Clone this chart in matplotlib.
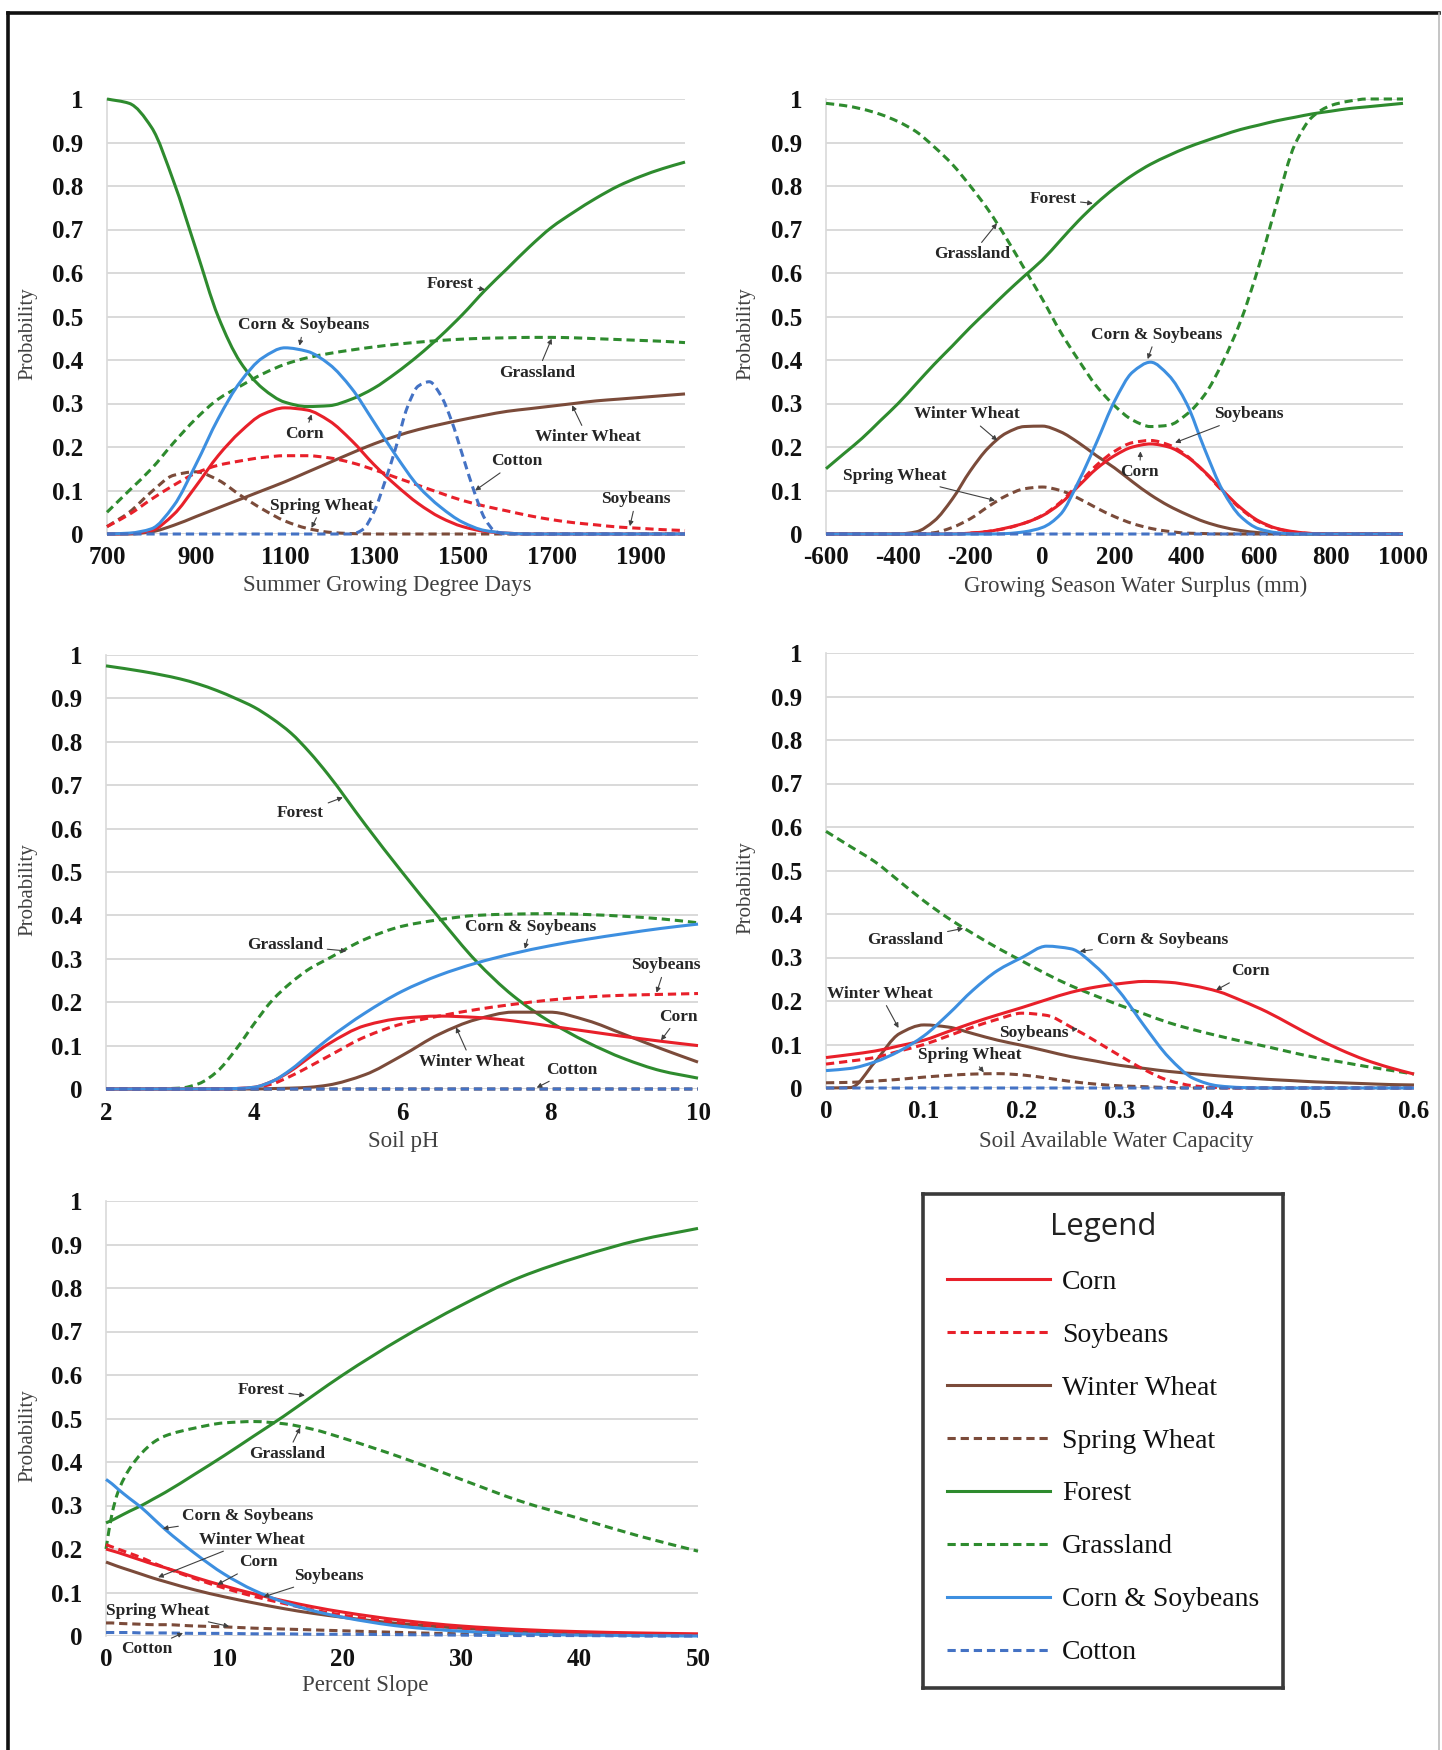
import matplotlib
matplotlib.use("Agg")
import numpy as np
import matplotlib.pyplot as plt
from matplotlib.lines import Line2D
from matplotlib.path import Path
from matplotlib.patches import PathPatch
from matplotlib.font_manager import FontProperties

W, H = 1442, 1750

# ------------------------------------------------------------------ data
# Panel 1: Summer Growing Degree Days
gdd_x = [700, 750, 800, 850, 900, 950, 1000, 1050, 1100, 1150, 1200, 1250, 1300, 1350,
         1400, 1450, 1500, 1550, 1600, 1650, 1700, 1750, 1800, 1850, 1900, 1950, 2000]
gdd_forest = [1.0, 0.99, 0.935, 0.81, 0.655, 0.50, 0.395, 0.335, 0.303, 0.293, 0.295, 0.31, 0.335, 0.37,
              0.41, 0.455, 0.505, 0.56, 0.61, 0.66, 0.705, 0.74, 0.772, 0.80, 0.822, 0.84, 0.855]
gdd_grass = [0.05, 0.10, 0.15, 0.21, 0.265, 0.31, 0.34, 0.368, 0.39, 0.405, 0.415, 0.423, 0.43, 0.436,
             0.441, 0.445, 0.448, 0.45, 0.451, 0.452, 0.452, 0.451, 0.449, 0.447, 0.445, 0.443, 0.44]
gdd_cornsoy = [0.0, 0.002, 0.012, 0.065, 0.16, 0.265, 0.35, 0.405, 0.428, 0.42, 0.39, 0.335, 0.258, 0.18,
               0.11, 0.062, 0.027, 0.008, 0.002, 0, 0, 0, 0, 0, 0, 0, 0]
gdd_corn = [0.0, 0.001, 0.008, 0.045, 0.11, 0.18, 0.235, 0.275, 0.29, 0.285, 0.26, 0.215, 0.16, 0.112,
            0.07, 0.038, 0.017, 0.006, 0.002, 0, 0, 0, 0, 0, 0, 0, 0]
gdd_soy = [0.017, 0.045, 0.08, 0.112, 0.14, 0.158, 0.168, 0.176, 0.18, 0.18, 0.175, 0.164, 0.148, 0.13,
           0.112, 0.094, 0.077, 0.064, 0.053, 0.042, 0.033, 0.026, 0.021, 0.016, 0.013, 0.01, 0.008]
gdd_wwheat = [0.0, 0.0, 0.005, 0.02, 0.04, 0.06, 0.08, 0.1, 0.12, 0.142, 0.164, 0.186, 0.207, 0.225,
              0.24, 0.252, 0.263, 0.273, 0.282, 0.288, 0.294, 0.3, 0.306, 0.31, 0.314, 0.318, 0.322]
gdd_swheat = [0.017, 0.05, 0.097, 0.135, 0.143, 0.124, 0.089, 0.057, 0.03, 0.013, 0.004, 0.001, 0, 0,
              0, 0, 0, 0, 0, 0, 0, 0, 0, 0, 0, 0, 0]
gdd_cotton_x = [700, 1250, 1275, 1300, 1325, 1350, 1375, 1400, 1425, 1450, 1475, 1500, 1525, 1550, 1575, 1600, 2000]
gdd_cotton = [0, 0, 0.01, 0.05, 0.12, 0.2, 0.29, 0.34, 0.35, 0.32, 0.26, 0.18, 0.1, 0.035, 0.005, 0, 0]

# Panel 2: Growing Season Water Surplus (mm)
ws_x = [-600, -550, -500, -450, -400, -350, -300, -250, -200, -150, -100, -50, 0, 50, 100, 150, 200,
        250, 300, 350, 400, 450, 500, 550, 600, 650, 700, 750, 800, 850, 900, 950, 1000]
ws_forest = [0.15, 0.185, 0.22, 0.26, 0.30, 0.345, 0.39, 0.432, 0.475, 0.515, 0.555, 0.593, 0.63, 0.675,
             0.72, 0.76, 0.795, 0.825, 0.85, 0.87, 0.888, 0.903, 0.917, 0.93, 0.94, 0.95, 0.958, 0.966,
             0.972, 0.978, 0.982, 0.986, 0.99]
ws_grass = [0.99, 0.985, 0.977, 0.965, 0.948, 0.925, 0.89, 0.85, 0.80, 0.745, 0.68, 0.61, 0.54, 0.465,
            0.40, 0.34, 0.295, 0.262, 0.247, 0.25, 0.275, 0.32, 0.395, 0.49, 0.615, 0.76, 0.895, 0.96,
            0.985, 0.995, 1.0, 1.0, 1.0]
ws_cornsoy = [0, 0, 0, 0, 0, 0, 0, 0, 0, 0, 0.001, 0.005, 0.015, 0.045, 0.12, 0.21, 0.305, 0.372,
              0.395, 0.365, 0.30, 0.195, 0.10, 0.04, 0.012, 0.003, 0, 0, 0, 0, 0, 0, 0]
ws_corn = [0, 0, 0, 0, 0, 0, 0, 0, 0.002, 0.006, 0.014, 0.025, 0.042, 0.07, 0.11, 0.15, 0.18, 0.2,
           0.207, 0.2, 0.178, 0.143, 0.1, 0.06, 0.03, 0.013, 0.005, 0.001, 0, 0, 0, 0, 0]
ws_soy = [0, 0, 0, 0, 0, 0, 0, 0, 0.002, 0.006, 0.013, 0.025, 0.043, 0.073, 0.115, 0.158, 0.19, 0.21,
          0.215, 0.205, 0.18, 0.142, 0.098, 0.058, 0.028, 0.012, 0.004, 0.001, 0, 0, 0, 0, 0]
ws_wwheat = [0, 0, 0, 0, 0, 0.005, 0.03, 0.08, 0.145, 0.198, 0.232, 0.247, 0.248, 0.235, 0.21, 0.18,
             0.152, 0.12, 0.09, 0.065, 0.045, 0.028, 0.016, 0.008, 0.003, 0.001, 0, 0, 0, 0, 0, 0, 0]
ws_swheat = [0, 0, 0, 0, 0, 0, 0.003, 0.015, 0.035, 0.063, 0.088, 0.104, 0.108, 0.1, 0.082, 0.06,
             0.04, 0.024, 0.013, 0.006, 0.002, 0.001, 0, 0, 0, 0, 0, 0, 0, 0, 0, 0, 0]
ws_cotton = [0] * 33

# Panel 3: Soil pH
ph_x = [2, 2.5, 3, 3.25, 3.5, 3.75, 4, 4.25, 4.5, 4.75, 5, 5.5, 6, 6.5, 7, 7.5, 8, 8.5, 9, 9.5, 10]
ph_forest = [0.975, 0.962, 0.945, 0.933, 0.918, 0.90, 0.88, 0.853, 0.82, 0.776, 0.725, 0.61, 0.50,
             0.395, 0.295, 0.215, 0.155, 0.108, 0.07, 0.042, 0.025]
ph_grass = [0, 0, 0.002, 0.012, 0.04, 0.09, 0.15, 0.205, 0.245, 0.277, 0.30, 0.345, 0.375, 0.39, 0.40,
            0.403, 0.404, 0.402, 0.398, 0.392, 0.383]
ph_cornsoy = [0, 0, 0, 0, 0, 0.001, 0.004, 0.018, 0.045, 0.08, 0.115, 0.175, 0.225, 0.262, 0.29, 0.312,
              0.33, 0.345, 0.358, 0.37, 0.38]
ph_corn = [0, 0, 0, 0, 0, 0.001, 0.004, 0.018, 0.042, 0.073, 0.103, 0.146, 0.163, 0.168, 0.165, 0.157,
           0.145, 0.133, 0.121, 0.11, 0.10]
ph_soy = [0, 0, 0, 0, 0, 0.001, 0.003, 0.012, 0.03, 0.052, 0.075, 0.12, 0.15, 0.168, 0.183, 0.195,
          0.205, 0.212, 0.216, 0.218, 0.22]
ph_wwheat = [0, 0, 0, 0, 0, 0, 0, 0.001, 0.002, 0.004, 0.009, 0.033, 0.077, 0.126, 0.16, 0.177, 0.177,
             0.158, 0.126, 0.093, 0.062]
ph_swheat = [0] * 21
ph_cotton = [0] * 21

# Panel 4: Soil Available Water Capacity
awc_x = [0, 0.025, 0.05, 0.075, 0.1, 0.125, 0.15, 0.175, 0.2, 0.225, 0.25, 0.275, 0.3, 0.325, 0.35,
         0.375, 0.4, 0.425, 0.45, 0.475, 0.5, 0.525, 0.55, 0.575, 0.6]
awc_grass = [0.59, 0.555, 0.52, 0.475, 0.43, 0.39, 0.355, 0.322, 0.292, 0.262, 0.235, 0.212, 0.19, 0.17,
             0.15, 0.134, 0.12, 0.107, 0.095, 0.082, 0.07, 0.06, 0.05, 0.041, 0.032]
awc_cornsoy = [0.04, 0.045, 0.06, 0.085, 0.12, 0.17, 0.225, 0.27, 0.30, 0.326, 0.32, 0.28, 0.22, 0.142,
               0.07, 0.022, 0.005, 0.001, 0, 0, 0, 0, 0, 0, 0]
awc_corn = [0.07, 0.077, 0.085, 0.097, 0.11, 0.13, 0.15, 0.168, 0.185, 0.203, 0.22, 0.232, 0.24, 0.245,
            0.243, 0.235, 0.222, 0.2, 0.175, 0.145, 0.115, 0.088, 0.065, 0.047, 0.032]
awc_soy = [0.055, 0.062, 0.07, 0.085, 0.10, 0.12, 0.14, 0.158, 0.172, 0.167, 0.14, 0.108, 0.074, 0.042,
           0.017, 0.005, 0.001, 0, 0, 0, 0, 0, 0, 0, 0]
awc_wwheat = [0, 0.001, 0.06, 0.125, 0.145, 0.14, 0.125, 0.11, 0.098, 0.085, 0.072, 0.062, 0.052, 0.045,
              0.038, 0.033, 0.028, 0.024, 0.02, 0.017, 0.014, 0.012, 0.01, 0.008, 0.007]
awc_swheat = [0.012, 0.013, 0.016, 0.02, 0.025, 0.029, 0.032, 0.033, 0.03, 0.023, 0.015, 0.009, 0.005,
              0.003, 0.001, 0, 0, 0, 0, 0, 0, 0, 0, 0, 0]
awc_cotton = [0] * 25

# Panel 5: Percent Slope
slope_x = [0, 0.5, 1, 2, 3, 4, 5, 7.5, 10, 12.5, 15, 17.5, 20, 25, 30, 35, 40, 45, 50]
slope_forest = [0.26, 0.266, 0.273, 0.287, 0.30, 0.315, 0.33, 0.372, 0.415, 0.46, 0.505, 0.553, 0.60,
                0.685, 0.76, 0.825, 0.872, 0.91, 0.937]
slope_grass = [0.2, 0.28, 0.33, 0.385, 0.42, 0.445, 0.46, 0.478, 0.49, 0.493, 0.488, 0.475, 0.455, 0.41,
               0.36, 0.31, 0.27, 0.23, 0.195]
slope_cornsoy = [0.36, 0.35, 0.338, 0.316, 0.295, 0.27, 0.245, 0.19, 0.142, 0.105, 0.078, 0.058, 0.043,
                 0.022, 0.011, 0.005, 0.002, 0.001, 0.0]
slope_corn = [0.20, 0.196, 0.192, 0.183, 0.174, 0.165, 0.157, 0.135, 0.115, 0.097, 0.081, 0.067, 0.055,
              0.036, 0.023, 0.015, 0.01, 0.007, 0.005]
slope_soy = [0.21, 0.205, 0.2, 0.19, 0.18, 0.168, 0.157, 0.132, 0.11, 0.091, 0.075, 0.06, 0.048, 0.03,
             0.018, 0.01, 0.006, 0.003, 0.002]
slope_wwheat = [0.17, 0.165, 0.16, 0.151, 0.142, 0.133, 0.125, 0.106, 0.09, 0.076, 0.063, 0.052, 0.043,
                0.028, 0.018, 0.011, 0.007, 0.004, 0.003]
slope_swheat = [0.03, 0.03, 0.029, 0.028, 0.027, 0.026, 0.026, 0.023, 0.021, 0.018, 0.016, 0.014, 0.012,
                0.008, 0.005, 0.003, 0.002, 0.001, 0.001]
slope_cotton = [0.008, 0.008, 0.008, 0.008, 0.007, 0.007, 0.007, 0.006, 0.006, 0.005, 0.005, 0.004,
                0.004, 0.003, 0.002, 0.001, 0.001, 0, 0]

yticks = [0, 0.1, 0.2, 0.3, 0.4, 0.5, 0.6, 0.7, 0.8, 0.9, 1]
ytick_labels = ["0", "0.1", "0.2", "0.3", "0.4", "0.5", "0.6", "0.7", "0.8", "0.9", "1"]

# ------------------------------------------------------------------ style
SERIES = ["Corn", "Soybeans", "Winter Wheat", "Spring Wheat", "Forest", "Grassland",
          "Corn & Soybeans", "Cotton"]
COLOR = {"Corn": "#e8202a", "Soybeans": "#e8202a", "Winter Wheat": "#7b4b3a",
         "Spring Wheat": "#7b4b3a", "Forest": "#2e8b2e", "Grassland": "#2e8b2e",
         "Corn & Soybeans": "#3d8fe0", "Cotton": "#4472c4"}
DASHED = {"Soybeans", "Spring Wheat", "Grassland", "Cotton"}
DRAW_ORDER = ["Grassland", "Forest", "Winter Wheat", "Spring Wheat", "Soybeans", "Corn",
              "Corn & Soybeans", "Cotton"]
LW = 2.2
DASH = (2.7, 1.6)
SERIF = "Liberation Serif"

panels = [
    dict(px=(107, 99, 685, 534), xlim=(700, 2000), xticks=[700, 900, 1100, 1300, 1500, 1700, 1900],
         xlabel="Summer Growing Degree Days", xlab=(387, 586),
         series={"Forest": (gdd_x, gdd_forest), "Grassland": (gdd_x, gdd_grass),
                 "Corn & Soybeans": (gdd_x, gdd_cornsoy), "Corn": (gdd_x, gdd_corn),
                 "Soybeans": (gdd_x, gdd_soy), "Winter Wheat": (gdd_x, gdd_wwheat),
                 "Spring Wheat": (gdd_x, gdd_swheat), "Cotton": (gdd_cotton_x, gdd_cotton)},
         notes=[("Forest", (1472, 0.575), (1550, 0.562)),
                ("Corn & Soybeans", (1143, 0.48), (1133, 0.433)),
                ("Grassland", (1668, 0.371), (1700, 0.449)),
                ("Corn", (1145, 0.229), (1160, 0.275)),
                ("Winter Wheat", (1781, 0.222), (1746, 0.296)),
                ("Cotton", (1621, 0.167), (1528, 0.1)),
                ("Spring Wheat", (1184, 0.065), (1160, 0.014)),
                ("Soybeans", (1890, 0.08), (1876, 0.018))]),
    dict(px=(826, 99, 1403, 534), xlim=(-600, 1000),
         xticks=[-600, -400, -200, 0, 200, 400, 600, 800, 1000],
         xlabel="Growing Season Water Surplus (mm)", xlab=(1136, 586),
         series={"Forest": (ws_x, ws_forest), "Grassland": (ws_x, ws_grass),
                 "Corn & Soybeans": (ws_x, ws_cornsoy), "Corn": (ws_x, ws_corn),
                 "Soybeans": (ws_x, ws_soy), "Winter Wheat": (ws_x, ws_wwheat),
                 "Spring Wheat": (ws_x, ws_swheat), "Cotton": (ws_x, ws_cotton)},
         notes=[("Forest", (29, 0.77), (140, 0.76)),
                ("Grassland", (-195, 0.643), (-126, 0.714)),
                ("Corn & Soybeans", (316, 0.458), (292, 0.402)),
                ("Soybeans", (572, 0.275), (368, 0.21)),
                ("Corn", (270, 0.142), (272, 0.19)),
                ("Winter Wheat", (-210, 0.275), (-125, 0.215)),
                ("Spring Wheat", (-408, 0.134), (-131, 0.077))]),
    dict(px=(106, 655, 698, 1089), xlim=(2, 10), xticks=[2, 4, 6, 8, 10],
         xlabel="Soil pH", xlab=(403, 1141),
         series={"Forest": (ph_x, ph_forest), "Grassland": (ph_x, ph_grass),
                 "Corn & Soybeans": (ph_x, ph_cornsoy), "Corn": (ph_x, ph_corn),
                 "Soybeans": (ph_x, ph_soy), "Winter Wheat": (ph_x, ph_wwheat),
                 "Spring Wheat": (ph_x, ph_swheat), "Cotton": (ph_x, ph_cotton)},
         notes=[("Forest", (4.63, 0.635), (5.2, 0.672)),
                ("Grassland", (4.42, 0.331), (5.25, 0.318)),
                ("Corn & Soybeans", (7.74, 0.373), (7.66, 0.323)),
                ("Soybeans", (9.56, 0.285), (9.44, 0.222)),
                ("Corn", (9.74, 0.167), (9.5, 0.112)),
                ("Winter Wheat", (6.94, 0.062), (6.73, 0.142)),
                ("Cotton", (8.29, 0.044), (7.82, 0.003))]),
    dict(px=(826, 653, 1414, 1088), xlim=(0, 0.6), xticks=[0, 0.1, 0.2, 0.3, 0.4, 0.5, 0.6],
         xlabel="Soil Available Water Capacity", xlab=(1116, 1141),
         series={"Grassland": (awc_x, awc_grass),
                 "Corn & Soybeans": (awc_x, awc_cornsoy), "Corn": (awc_x, awc_corn),
                 "Soybeans": (awc_x, awc_soy), "Winter Wheat": (awc_x, awc_wwheat),
                 "Spring Wheat": (awc_x, awc_swheat), "Cotton": (awc_x, awc_cotton)},
         notes=[("Grassland", (0.081, 0.34), (0.14, 0.367)),
                ("Corn & Soybeans", (0.343, 0.34), (0.259, 0.314)),
                ("Corn", (0.433, 0.268), (0.398, 0.225)),
                ("Winter Wheat", (0.055, 0.217), (0.074, 0.138)),
                ("Soybeans", (0.212, 0.126), (0.257, 0.136)),
                ("Spring Wheat", (0.147, 0.076), (0.161, 0.036))]),
    dict(px=(106, 1201, 698, 1636), xlim=(0, 50), xticks=[0, 10, 20, 30, 40, 50],
         xlabel="Percent Slope", xlab=(365, 1686),
         series={"Forest": (slope_x, slope_forest), "Grassland": (slope_x, slope_grass),
                 "Corn & Soybeans": (slope_x, slope_cornsoy), "Corn": (slope_x, slope_corn),
                 "Soybeans": (slope_x, slope_soy), "Winter Wheat": (slope_x, slope_wwheat),
                 "Spring Wheat": (slope_x, slope_swheat), "Cotton": (slope_x, slope_cotton)},
         notes=[("Forest", (13.1, 0.566), (16.8, 0.553)),
                ("Grassland", (15.3, 0.418), (16.4, 0.479)),
                ("Corn & Soybeans", (12.0, 0.276), (4.8, 0.247)),
                ("Winter Wheat", (12.3, 0.221), (4.4, 0.135)),
                ("Corn", (12.9, 0.169), (9.4, 0.118)),
                ("Soybeans", (18.8, 0.138), (13.3, 0.09)),
                ("Spring Wheat", (4.4, 0.058), (10.4, 0.022)),
                ("Cotton", (3.4, -0.031), (6.5, 0.007))]),
]


def smooth_path(xs, ys):
    """Excel-style smoothed line: cubic Bezier segments through every data point
    (monotone Hermite tangents, so no overshoot)."""
    x = np.asarray(xs, float)
    y = np.asarray(ys, float)
    h = np.diff(x)
    d = np.diff(y) / h
    n = len(x)
    m = np.zeros(n)
    m[0], m[-1] = d[0], d[-1]
    for i in range(1, n - 1):
        if d[i - 1] * d[i] <= 0:
            m[i] = 0.0
        else:
            w1 = 2 * h[i] + h[i - 1]
            w2 = h[i] + 2 * h[i - 1]
            m[i] = (w1 + w2) / (w1 / d[i - 1] + w2 / d[i])
    verts = [(x[0], y[0])]
    codes = [Path.MOVETO]
    for i in range(n - 1):
        verts += [(x[i] + h[i] / 3, y[i] + m[i] * h[i] / 3),
                  (x[i + 1] - h[i] / 3, y[i + 1] - m[i + 1] * h[i] / 3),
                  (x[i + 1], y[i + 1])]
        codes += [Path.CURVE4] * 3
    return Path(verts, codes)


# ------------------------------------------------------------------ figure
fig = plt.figure(figsize=(W / 100, H / 100), dpi=100)
fig.patch.set_facecolor("white")

for p in panels:
    x0, y0, x1, y1 = p["px"]
    ax = fig.add_axes([x0 / W, 1 - y1 / H, (x1 - x0) / W, (y1 - y0) / H])
    ax.set_xlim(*p["xlim"])
    ax.set_ylim(0, 1)
    for name in DRAW_ORDER:
        if name not in p["series"]:
            continue
        xs, ys = p["series"][name]
        patch = PathPatch(smooth_path(xs, ys), fill=False, edgecolor=COLOR[name], lw=LW,
                          linestyle=(0, DASH) if name in DASHED else "-",
                          capstyle="butt", joinstyle="round", clip_on=False, zorder=3,
                          label=name)
        ax.add_patch(patch)
    ax.set_xlim(*p["xlim"])
    ax.set_ylim(0, 1)
    ax.set_yticks(yticks)
    ax.set_yticklabels(ytick_labels)
    ax.set_xticks(p["xticks"])
    ax.set_xticklabels(["%g" % v for v in p["xticks"]])
    ax.tick_params(axis="both", length=0, labelsize=18, colors="#111111")
    ax.tick_params(axis="y", pad=17)
    ax.tick_params(axis="x", pad=9)
    for lab in ax.get_xticklabels() + ax.get_yticklabels():
        lab.set_fontfamily(SERIF)
        lab.set_fontweight("bold")
    ax.yaxis.grid(True, color="#d9d9d9", lw=1.4)
    ax.set_axisbelow(True)
    for s in ["top", "right", "bottom"]:
        ax.spines[s].set_visible(False)
    ax.spines["left"].set_color("#d9d9d9")
    ax.spines["left"].set_linewidth(1.2)
    wpx = x1 - x0
    hpx = y1 - y0
    ax.set_ylabel("Probability", fontfamily=SERIF, fontsize=15, color="#404040")
    ax.yaxis.set_label_coords(-(x0 - (28 if x0 < 400 else 746)) / wpx, 0.46)
    ax.yaxis.label.set_va("center")
    ax.set_xlabel(p["xlabel"], fontfamily=SERIF, fontsize=16.5, color="#404040")
    lx, ly = p["xlab"]
    ax.xaxis.set_label_coords((lx - x0) / wpx, -(ly - y1) / hpx)
    ax.xaxis.label.set_va("center")
    for text, txy, tip in p["notes"]:
        ax.annotate(text, xy=tip, xytext=txy, ha="center", va="center",
                    fontfamily=SERIF, fontweight="bold", fontsize=12.5, color="#262626",
                    annotation_clip=False, zorder=5,
                    arrowprops=dict(arrowstyle="-|>", lw=0.8, color="#404040",
                                    mutation_scale=7, shrinkA=1, shrinkB=0))

# ------------------------------------------------------------------ legend box
lx0, ly0, lx1, ly1 = 923, 1194, 1283, 1688
lax = fig.add_axes([lx0 / W, 1 - ly1 / H, (lx1 - lx0) / W, (ly1 - ly0) / H])
lax.set_xticks([])
lax.set_yticks([])
for s in lax.spines.values():
    s.set_color("#3a3a3a")
    s.set_linewidth(2.6)
handles = []
for name in SERIES:
    kw = dict(color=COLOR[name], lw=LW)
    if name in DASHED:
        kw["linestyle"] = (0, DASH)
    handles.append(Line2D([], [], **kw))
leg = lax.legend(handles, SERIES, loc="center", bbox_to_anchor=(0.5, 0.505), frameon=False,
                 title="Legend", prop=FontProperties(family=SERIF, size=20),
                 title_fontproperties=FontProperties(family="Open Sans", size=22.5),
                 handlelength=3.7, handletextpad=0.45, labelspacing=0.99, borderpad=0.2)
for t in leg.get_texts():
    t.set_color("#111111")
leg.get_title().set_color("#222222")

# ------------------------------------------------------------------ outer frame
fig.add_artist(Line2D([8 / W, 8 / W], [0, 1 - 13 / H], transform=fig.transFigure,
                      color="#111111", lw=2.6))
fig.add_artist(Line2D([8 / W, 1439 / W], [1 - 13 / H, 1 - 13 / H], transform=fig.transFigure,
                      color="#111111", lw=2.6))
fig.add_artist(Line2D([1439 / W, 1439 / W], [0, 1 - 13 / H], transform=fig.transFigure,
                      color="#bbbbbb", lw=1.2))

fig.savefig("out.png", dpi=100, facecolor="white")
